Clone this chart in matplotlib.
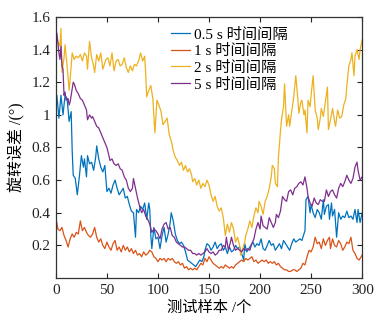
import matplotlib
matplotlib.use('Agg')
import matplotlib.pyplot as plt
from matplotlib.ticker import FuncFormatter

plt.rcParams['font.family'] = ['Liberation Serif', 'Noto Sans CJK SC']
plt.rcParams['axes.unicode_minus'] = False

# 0.5 s 时间间隔
x_05 = [0, 1, 3, 5, 7, 9, 11, 13, 15, 16, 17, 19, 21, 23, 25, 27, 28, 30, 31, 33, 35, 37, 39, 40, 42, 44, 46, 48,
        50, 52, 54, 56, 58, 60, 62, 64, 66, 68, 70, 72, 74, 76, 78, 79, 81, 83, 85, 87, 89, 91, 92, 93, 94, 96, 98,
        100, 102, 104, 106, 108, 110, 112, 113, 115, 117, 119, 121, 123, 125, 127, 129, 131, 133, 135, 137, 139,
        141, 143, 145, 146, 148, 150, 152, 154, 156, 158, 160, 162, 164, 166, 168, 170, 172, 174, 176, 178, 180,
        182, 184, 185, 187, 189, 191, 193, 195, 197, 199, 201, 203, 205, 207, 209, 211, 213, 215, 217, 219, 221,
        223, 225, 227, 229, 231, 233, 235, 237, 239, 241, 242, 244, 245, 247, 249, 250, 252, 254, 256, 258, 260,
        262, 263, 265, 267, 268, 270, 271, 273, 275, 277, 279, 281, 283, 285, 287, 289, 291, 293, 295, 296, 298, 300]
y_05 = [1.05, 1.12, 0.98, 1.12, 1.00, 1.12, 1.10, 0.96, 1.02, 0.78, 0.63, 0.61, 0.51, 0.62, 0.75, 0.68, 0.73, 0.62,
        0.75, 0.70, 0.71, 0.66, 0.74, 0.81, 0.73, 0.68, 0.65, 0.69, 0.53, 0.55, 0.52, 0.57, 0.60, 0.55, 0.51, 0.53,
        0.55, 0.49, 0.50, 0.45, 0.41, 0.40, 0.25, 0.42, 0.40, 0.44, 0.42, 0.46, 0.36, 0.46, 0.42, 0.26, 0.18, 0.31,
        0.24, 0.25, 0.18, 0.26, 0.31, 0.22, 0.27, 0.34, 0.40, 0.35, 0.27, 0.23, 0.21, 0.22, 0.20, 0.16, 0.11, 0.10,
        0.09, 0.08, 0.07, 0.09, 0.11, 0.10, 0.13, 0.17, 0.21, 0.20, 0.17, 0.19, 0.22, 0.18, 0.20, 0.21, 0.17, 0.19,
        0.15, 0.19, 0.16, 0.17, 0.20, 0.18, 0.19, 0.15, 0.11, 0.21, 0.16, 0.18, 0.20, 0.22, 0.19, 0.21, 0.20, 0.24,
        0.18, 0.17, 0.20, 0.23, 0.20, 0.21, 0.17, 0.19, 0.21, 0.18, 0.23, 0.21, 0.19, 0.17, 0.21, 0.24, 0.22, 0.23,
        0.24, 0.23, 0.25, 0.29, 0.48, 0.50, 0.40, 0.45, 0.40, 0.37, 0.42, 0.40, 0.36, 0.48, 0.39, 0.44, 0.45, 0.36,
        0.46, 0.38, 0.42, 0.25, 0.40, 0.36, 0.38, 0.37, 0.41, 0.37, 0.38, 0.36, 0.42, 0.34, 0.42, 0.34, 0.40]

# 1 s 时间间隔
x_1 = [0, 2, 4, 6, 8, 10, 12, 14, 16, 18, 20, 22, 24, 26, 28, 30, 32, 34, 36, 38, 40, 42, 44, 46, 48, 50, 52, 54,
       56, 58, 60, 62, 64, 66, 68, 70, 72, 74, 76, 78, 80, 82, 84, 86, 88, 90, 92, 94, 96, 98, 100, 102, 104, 106,
       108, 110, 112, 114, 116, 118, 120, 122, 124, 126, 128, 130, 132, 134, 136, 138, 140, 142, 144, 146, 148, 150,
       152, 154, 156, 158, 160, 162, 164, 166, 168, 170, 172, 174, 176, 178, 180, 182, 184, 186, 188, 190, 192,
       194, 196, 198, 200, 202, 204, 206, 208, 210, 212, 214, 216, 218, 220, 222, 224, 226, 228, 230, 232, 234,
       236, 238, 240, 242, 244, 246, 248, 250, 252, 254, 256, 258, 260, 262, 264, 266, 268, 269, 271, 273, 275,
       277, 279, 281, 283, 285, 287, 289, 291, 293, 295, 297, 299, 300]
y_1 = [0.37, 0.30, 0.29, 0.31, 0.26, 0.23, 0.19, 0.24, 0.27, 0.25, 0.28, 0.27, 0.35, 0.29, 0.31, 0.28, 0.26, 0.25,
       0.27, 0.31, 0.25, 0.22, 0.24, 0.20, 0.18, 0.22, 0.19, 0.17, 0.21, 0.23, 0.17, 0.19, 0.16, 0.20, 0.17, 0.19,
       0.16, 0.18, 0.15, 0.17, 0.14, 0.15, 0.13, 0.16, 0.14, 0.15, 0.17, 0.16, 0.13, 0.12, 0.10, 0.12, 0.11, 0.12,
       0.10, 0.12, 0.11, 0.12, 0.10, 0.09, 0.10, 0.08, 0.09, 0.06, 0.07, 0.05, 0.06, 0.05, 0.06, 0.05, 0.07, 0.09,
       0.08, 0.12, 0.10, 0.13, 0.11, 0.09, 0.08, 0.07, 0.06, 0.07, 0.06, 0.08, 0.07, 0.06, 0.07, 0.06, 0.08, 0.09,
       0.10, 0.11, 0.10, 0.12, 0.11, 0.12, 0.13, 0.10, 0.11, 0.09, 0.10, 0.11, 0.10, 0.11, 0.09, 0.10, 0.09, 0.10,
       0.08, 0.09, 0.07, 0.06, 0.05, 0.05, 0.04, 0.04, 0.05, 0.05, 0.04, 0.05, 0.06, 0.09, 0.08, 0.13, 0.17, 0.16,
       0.19, 0.25, 0.21, 0.22, 0.18, 0.24, 0.20, 0.23, 0.25, 0.18, 0.24, 0.20, 0.19, 0.23, 0.21, 0.17, 0.19, 0.22,
       0.21, 0.25, 0.17, 0.15, 0.12, 0.11, 0.13, 0.14]

# 2 s 时间间隔
x_2 = [0, 2, 4, 5, 6, 8, 9, 11, 13, 14, 16, 18, 20, 22, 24, 26, 28, 30, 31, 33, 35, 37, 38, 40, 42, 44, 46, 47, 49,
       51, 53, 55, 57, 59, 61, 63, 65, 67, 69, 71, 73, 75, 77, 79, 81, 83, 85, 87, 88, 89, 91, 93, 95, 97, 99, 101,
       103, 105, 107, 109, 111, 113, 115, 117, 119, 121, 123, 125, 127, 129, 131, 133, 134, 136, 138, 140, 142,
       144, 146, 148, 150, 152, 154, 156, 158, 160, 162, 164, 166, 168, 170, 172, 174, 176, 178, 180, 181, 183,
       185, 186, 188, 190, 192, 194, 196, 198, 199, 201, 203, 205, 207, 209, 211, 212, 214, 215, 217, 218, 220,
       221, 223, 224, 226, 228, 229, 231, 233, 235, 237, 238, 240, 241, 243, 244, 246, 247, 249, 250, 252, 254,
       256, 257, 259, 260, 262, 264, 266, 267, 269, 271, 273, 274, 276, 278, 280, 282, 284, 285, 287, 289, 290,
       292, 293, 295, 297, 298, 300]
y_2 = [1.50, 1.45, 1.42, 1.53, 1.26, 1.35, 1.43, 1.30, 1.15, 1.22, 1.38, 1.34, 1.36, 1.35, 1.37, 1.33, 1.38, 1.36,
       1.28, 1.45, 1.35, 1.30, 1.26, 1.37, 1.33, 1.38, 1.28, 1.30, 1.34, 1.35, 1.30, 1.38, 1.27, 1.33, 1.34, 1.30,
       1.31, 1.35, 1.29, 1.26, 1.30, 1.27, 1.31, 1.30, 1.33, 1.38, 1.33, 1.36, 1.25, 1.11, 1.15, 1.18, 1.10, 0.89,
       1.09, 1.06, 1.02, 0.94, 0.96, 0.98, 0.88, 0.84, 0.78, 0.74, 0.72, 0.69, 0.71, 0.66, 0.69, 0.65, 0.67, 0.63,
       0.59, 0.61, 0.57, 0.60, 0.55, 0.58, 0.56, 0.60, 0.57, 0.51, 0.47, 0.50, 0.44, 0.41, 0.43, 0.37, 0.26, 0.33,
       0.28, 0.34, 0.30, 0.22, 0.25, 0.20, 0.14, 0.18, 0.22, 0.26, 0.30, 0.35, 0.31, 0.38, 0.43, 0.40, 0.47, 0.44,
       0.39, 0.47, 0.50, 0.55, 0.62, 0.69, 0.67, 0.58, 0.56, 0.74, 0.90, 0.97, 1.05, 1.19, 0.93, 1.00, 0.93, 1.02,
       1.11, 1.24, 1.10, 1.01, 1.08, 1.09, 1.00, 1.03, 0.89, 1.09, 1.05, 1.12, 1.24, 1.03, 0.98, 0.91, 0.98, 1.04,
       0.99, 1.08, 1.17, 0.91, 0.97, 1.04, 0.96, 0.93, 1.03, 0.98, 0.99, 1.06, 1.10, 1.18, 1.30, 1.34, 1.38, 1.24,
       1.36, 1.40, 1.34, 1.40, 1.46]

# 5 s 时间间隔
x_5 = [0, 1, 2, 3, 4, 5, 6, 7, 8, 9, 10, 12, 13, 14, 15, 16, 17, 18, 20, 22, 24, 26, 28, 30, 31, 33, 35, 36, 38, 40,
       42, 44, 46, 48, 50, 52, 53, 55, 57, 59, 61, 63, 65, 67, 69, 71, 73, 75, 76, 78, 80, 82, 84, 86, 88, 90, 92,
       94, 96, 98, 100, 102, 104, 106, 108, 110, 112, 114, 116, 118, 120, 122, 124, 126, 128, 130, 132, 134, 136,
       138, 140, 142, 144, 146, 148, 150, 152, 154, 156, 158, 160, 162, 164, 166, 167, 169, 171, 172, 174, 176,
       178, 180, 182, 184, 186, 188, 190, 192, 194, 196, 198, 200, 201, 203, 205, 207, 209, 211, 213, 215, 216,
       218, 220, 222, 224, 226, 228, 230, 232, 234, 236, 238, 240, 242, 244, 246, 247, 249, 251, 253, 255, 257,
       259, 261, 263, 265, 267, 269, 271, 273, 275, 277, 279, 281, 283, 285, 287, 289, 291, 293, 295, 296, 298, 300]
y_5 = [1.51, 1.50, 1.44, 1.38, 1.34, 1.42, 1.30, 1.28, 1.12, 1.14, 1.09, 1.10, 1.06, 1.08, 1.12, 1.16, 1.20, 1.19,
       1.15, 1.13, 1.10, 1.09, 1.06, 1.03, 0.97, 1.00, 0.98, 0.99, 0.96, 0.93, 0.92, 0.89, 0.86, 0.83, 0.80, 0.75,
       0.72, 0.73, 0.70, 0.69, 0.70, 0.67, 0.66, 0.62, 0.60, 0.55, 0.53, 0.55, 0.61, 0.55, 0.49, 0.44, 0.40, 0.42,
       0.38, 0.36, 0.33, 0.28, 0.30, 0.29, 0.27, 0.24, 0.30, 0.33, 0.34, 0.30, 0.31, 0.26, 0.25, 0.22, 0.21, 0.20,
       0.19, 0.19, 0.18, 0.17, 0.17, 0.15, 0.15, 0.14, 0.15, 0.14, 0.15, 0.16, 0.18, 0.16, 0.15, 0.16, 0.14, 0.15,
       0.17, 0.17, 0.20, 0.19, 0.25, 0.17, 0.22, 0.25, 0.20, 0.17, 0.18, 0.17, 0.16, 0.18, 0.17, 0.18, 0.17, 0.21,
       0.24, 0.30, 0.34, 0.30, 0.38, 0.32, 0.31, 0.30, 0.37, 0.34, 0.31, 0.34, 0.39, 0.37, 0.41, 0.50, 0.48, 0.47,
       0.53, 0.54, 0.51, 0.55, 0.56, 0.58, 0.59, 0.57, 0.62, 0.55, 0.50, 0.46, 0.44, 0.49, 0.46, 0.45, 0.48, 0.47,
       0.47, 0.54, 0.50, 0.53, 0.54, 0.51, 0.49, 0.55, 0.58, 0.56, 0.59, 0.63, 0.60, 0.58, 0.61, 0.68, 0.71, 0.66,
       0.60, 0.62]

labels = ['0.5 s 时间间隔', '1 s 时间间隔', '2 s 时间间隔', '5 s 时间间隔']
colors = ['#0072BD', '#D95319', '#EDB120', '#7E2F8E']

fig = plt.figure(figsize=(3.8, 3.21), dpi=100)
ax = fig.add_axes([0.147, 0.134, 0.806, 0.813])

ax.plot(x_05, y_05, color=colors[0], lw=0.9, label=labels[0])
ax.plot(x_1, y_1, color=colors[1], lw=0.9, label=labels[1])
ax.plot(x_2, y_2, color=colors[2], lw=0.9, label=labels[2])
ax.plot(x_5, y_5, color=colors[3], lw=0.9, label=labels[3])

ax.set_xlim(0, 300)
ax.set_ylim(0, 1.6)
ax.set_xticks([0, 50, 100, 150, 200, 250, 300])
ax.set_yticks([0.2, 0.4, 0.6, 0.8, 1.0, 1.2, 1.4, 1.6])
ax.yaxis.set_major_formatter(FuncFormatter(lambda v, p: '%g' % round(v, 1)))
ax.tick_params(direction='in', top=True, right=True, length=3.5, width=0.8,
               labelsize=11, colors='#222222', pad=4)
for s in ax.spines.values():
    s.set_linewidth(0.9)
    s.set_color('#333333')

ax.set_xlabel('测试样本 /个', fontsize=11, labelpad=3)
ax.set_ylabel('旋转误差 /(°)', fontsize=11.5, labelpad=4)

leg = ax.legend(loc='upper left', bbox_to_anchor=(0.345, 0.995), frameon=False, fontsize=11,
                handlelength=1.25, handletextpad=0.25, labelspacing=0.17, borderaxespad=0.2)

fig.savefig('out.png', dpi=100)
